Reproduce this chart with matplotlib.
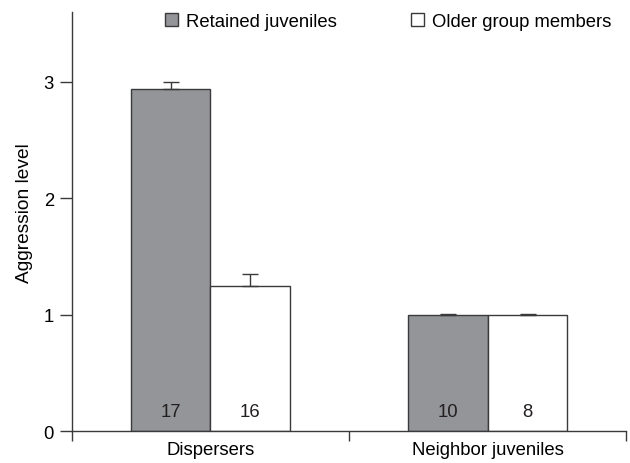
import numpy as np
import matplotlib.pyplot as plt
from matplotlib.patches import Patch

plt.rcParams['font.family'] = ['Liberation Sans', 'DejaVu Sans']

groups = ['Dispersers', 'Neighbor juveniles']
series = ['Retained juveniles', 'Older group members']
retained = [2.94, 1.0]
retained_err = [0.06, 0.01]
older = [1.25, 1.0]
older_err = [0.10, 0.01]
retained_n = ['17', '10']
older_n = ['16', '8']

edge = '#3a3a3c'
gray = '#939598'
fs = 13.3

fig = plt.figure(figsize=(6.3, 4.64), dpi=100)
ax = fig.add_axes([0.114, 0.068, 0.880, 0.904])

x = np.arange(len(groups))
w = 0.288
ax.bar(x - w / 2, retained, w, color=gray, edgecolor=edge, linewidth=1,
       yerr=[np.zeros(2), retained_err], capsize=6,
       error_kw=dict(ecolor=edge, elinewidth=1, capthick=1))
ax.bar(x + w / 2, older, w, color='white', edgecolor=edge, linewidth=1,
       yerr=[np.zeros(2), older_err], capsize=6,
       error_kw=dict(ecolor=edge, elinewidth=1, capthick=1))

for i in range(len(groups)):
    ax.text(x[i] - w / 2, 0.1, retained_n[i], ha='center', va='bottom', fontsize=fs, color='#231f20')
    ax.text(x[i] + w / 2, 0.1, older_n[i], ha='center', va='bottom', fontsize=fs, color='#231f20')

ax.set_xlim(-0.5, 1.5)
ax.set_ylim(0, 3.6)
ax.set_yticks([0, 1, 2, 3])
ax.set_xticks(x)
ax.set_xticklabels(groups, fontsize=fs)
ax.set_xticks([-0.5, 0.5, 1.5], minor=True)
ax.tick_params(axis='x', which='major', length=0, pad=7)
ax.tick_params(axis='x', which='minor', length=7, width=1, color=edge, direction='out')
ax.tick_params(axis='y', length=9, width=1, color=edge, labelsize=fs, pad=4)
ax.set_ylabel('Aggression level', fontsize=13.8)
ax.yaxis.set_label_coords(-0.070, 0.523)

for s in ['top', 'right']:
    ax.spines[s].set_visible(False)
for s in ['left', 'bottom']:
    ax.spines[s].set_color(edge)
    ax.spines[s].set_linewidth(1)

handles = [Patch(facecolor=gray, edgecolor=edge, linewidth=1),
           Patch(facecolor='white', edgecolor=edge, linewidth=1)]
fig.legend(handles, series, ncol=2, frameon=False, fontsize=fs,
           loc='upper left', bbox_to_anchor=(0.262, 0.97),
           borderpad=0, borderaxespad=0,
           handlelength=0.7, handleheight=0.7, handletextpad=0.45,
           columnspacing=4.0)

fig.savefig('out.png', dpi=100)
